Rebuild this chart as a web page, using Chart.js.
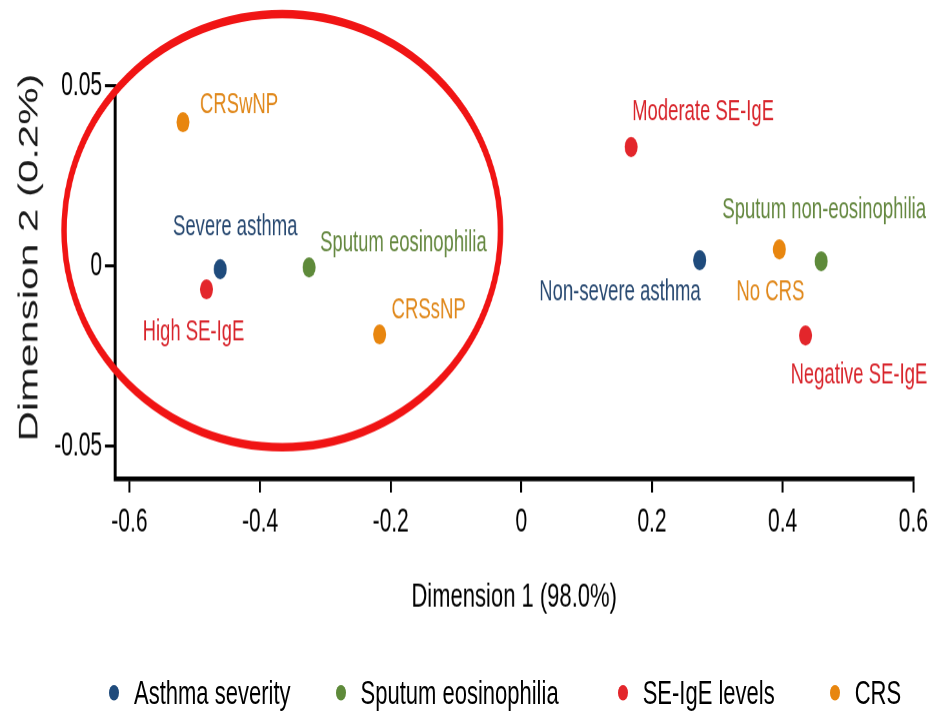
<!DOCTYPE html>
<html>
<head>
<meta charset="utf-8">
<script src="https://cdn.jsdelivr.net/npm/chart.js@4/dist/chart.umd.min.js"></script>
<style>
    html, body { margin: 0; padding: 0; background: #fff; width: 939px; height: 720px; overflow: hidden; }
    /* the source figure is stretched vertically, so draw flat and stretch */
    #wrap { position: relative; width: 939px; height: 465px; transform: scaleY(1.55); transform-origin: 0 0; }
    #legend { position: absolute; left: 109px; top: 436px; display: flex; align-items: center; white-space: nowrap;
              font: 22px "Liberation Sans", Arial, sans-serif; line-height: 22px; color: #000; }
    #legend .item { display: flex; align-items: center; flex-shrink: 0; }
    #legend .item:nth-child(1) { margin-right: 45px; }
    #legend .item:nth-child(2) { margin-right: 59px; }
    #legend .item:nth-child(3) { margin-right: 55px; }
    #legend .dot { width: 10px; height: 10px; border-radius: 50%; margin-right: 15px; flex-shrink: 0; }
</style>
</head>
<body>
<div id="wrap">
    <canvas id="mcaChart"></canvas>
    <div id="legend"></div>
</div>
<script>
// Groups
const groups = ['Asthma severity', 'Sputum eosinophilia', 'SE-IgE levels', 'CRS'];
const dotColors = ['#1f4b7c', '#5e8a3a', '#e3262b', '#e8860f'];
const textColors = ['#274870', '#64873f', '#d8242b', '#e0881b'];

// Category points (Dimension 1, Dimension 2)
const asthmaNames = ['Severe asthma', 'Non-severe asthma'];
const asthmaX = [-0.461, 0.273];
const asthmaY = [-0.0008, 0.0017];

const sputumNames = ['Sputum eosinophilia', 'Sputum non-eosinophilia'];
const sputumX = [-0.325, 0.459];
const sputumY = [-0.0003, 0.0014];

const igeNames = ['High SE-IgE', 'Moderate SE-IgE', 'Negative SE-IgE'];
const igeX = [-0.482, 0.168, 0.435];
const igeY = [-0.0064, 0.0331, -0.0192];

const crsNames = ['CRSwNP', 'CRSsNP', 'No CRS'];
const crsX = [-0.518, -0.217, 0.395];
const crsY = [0.0400, -0.0189, 0.0047];

// Axes
const xTicks = [-0.6, -0.4, -0.2, 0, 0.2, 0.4, 0.6];
const xTickLabels = ['-0.6', '-0.4', '-0.2', '0', '0.2', '0.4', '0.6'];
const yTicks = [-0.05, 0, 0.05];
const yTickLabels = ['-0.05', '0', '0.05'];

// Highlight ring around the severe cluster (data units)
const ring = { cx: -0.366, cy: 0.0099, rx: 0.334, ry: 0.0601 };

// where each label sits relative to its dot
const labelPlacement = {
    'Severe asthma': { align: 'center', dx: 15, dy: -27 },
    'Non-severe asthma': { align: 'right', dx: 1, dy: 21 },
    'Sputum eosinophilia': { align: 'left', dx: 11, dy: -15.5 },
    'Sputum non-eosinophilia': { align: 'center', dx: 3, dy: -33 },
    'High SE-IgE': { align: 'center', dx: -13, dy: 28 },
    'Moderate SE-IgE': { align: 'left', dx: 1, dy: -22.5 },
    'Negative SE-IgE': { align: 'left', dx: -15, dy: 26 },
    'CRSwNP': { align: 'left', dx: 17, dy: -11 },
    'CRSsNP': { align: 'left', dx: 12, dy: -15.5 },
    'No CRS': { align: 'center', dx: -9, dy: 28 }
};

const FONT = '"Liberation Sans", Arial, sans-serif';

function makeSet(i, names, xs, ys) {
    return {
        label: groups[i],
        names: names,
        textColor: textColors[i],
        data: xs.map((x, k) => ({ x: x, y: ys[k] })),
        backgroundColor: dotColors[i],
        borderWidth: 0,
        pointRadius: 6.5,
        pointHoverRadius: 6.5
    };
}

const datasets = [
    makeSet(0, asthmaNames, asthmaX, asthmaY),
    makeSet(1, sputumNames, sputumX, sputumY),
    makeSet(2, igeNames, igeX, igeY),
    makeSet(3, crsNames, crsX, crsY)
];

// Point labels
const pointLabels = {
    id: 'pointLabels',
    afterDatasetsDraw(chart) {
        const ctx = chart.ctx;
        ctx.save();
        ctx.font = '18.5px ' + FONT;
        ctx.textBaseline = 'middle';
        chart.data.datasets.forEach((ds, i) => {
            chart.getDatasetMeta(i).data.forEach((pt, k) => {
                const name = ds.names[k];
                const p = labelPlacement[name];
                ctx.fillStyle = ds.textColor;
                ctx.textAlign = p.align;
                ctx.fillText(name, pt.x + p.dx, pt.y + p.dy);
            });
        });
        ctx.restore();
    }
};

// red ring + rotated y title
const extras = {
    id: 'extras',
    afterDraw(chart) {
        const ctx = chart.ctx;
        const xs = chart.scales.x, ys = chart.scales.y;
        const cx = xs.getPixelForValue(ring.cx);
        const cy = ys.getPixelForValue(ring.cy);
        const rx = xs.getPixelForValue(ring.cx + ring.rx) - cx;
        const ry = cy - ys.getPixelForValue(ring.cy + ring.ry);
        ctx.save();
        ctx.strokeStyle = '#f01414';
        ctx.lineWidth = 5.5;
        ctx.beginPath();
        ctx.ellipse(cx, cy, rx, ry, 0, 0, Math.PI * 2);
        ctx.stroke();

        const area = chart.chartArea;
        ctx.translate(30, (area.top + area.bottom) / 2 - 16);
        ctx.rotate(-Math.PI / 2);
        ctx.font = '27px ' + FONT;
        ctx.fillStyle = '#1a1a1a';
        ctx.textAlign = 'center';
        ctx.textBaseline = 'middle';
        ctx.fillText('Dimension 2 (0.2%)', 0, 0);
        ctx.restore();
    }
};

const chart = new Chart(document.getElementById('mcaChart'), {
    type: 'scatter',
    data: { datasets: datasets },
    options: {
        responsive: true,
        maintainAspectRatio: false,
        devicePixelRatio: 1.55,
        animation: false,
        layout: { padding: { top: 55.5, right: 26, bottom: 0, left: 0 } },
        plugins: {
            legend: { display: false },
            tooltip: { enabled: false }
        },
        scales: {
            x: {
                type: 'linear',
                min: -0.622,
                max: 0.6,
                afterBuildTicks: s => { s.ticks = xTicks.map(v => ({ value: v })); },
                afterFit: s => { s.height = 156.6; },
                ticks: {
                    callback: (v, i) => xTickLabels[i],
                    font: { family: FONT, size: 21 },
                    color: '#000',
                    padding: 7,
                    maxRotation: 0
                },
                grid: { drawOnChartArea: false, color: '#000', lineWidth: 2, tickLength: 9 },
                border: { color: '#000', width: 3 },
                title: {
                    display: true,
                    text: 'Dimension 1 (98.0%)',
                    font: { family: FONT, size: 22 },
                    color: '#000',
                    padding: { top: 0, bottom: 66.6 }
                }
            },
            y: {
                type: 'linear',
                min: -0.0589,
                max: 0.05,
                afterBuildTicks: s => { s.ticks = yTicks.map(v => ({ value: v })); },
                afterFit: s => { s.width = 115; },
                ticks: {
                    callback: (v, i) => yTickLabels[i],
                    font: { family: FONT, size: 21 },
                    color: '#000',
                    padding: 3
                },
                grid: { drawOnChartArea: false, color: '#000', lineWidth: 2, tickLength: 10 },
                border: { color: '#000', width: 3 }
            }
        }
    },
    plugins: [pointLabels, extras]
});

// Legend
const legendEl = document.getElementById('legend');
chart.data.datasets.forEach(ds => {
    legendEl.insertAdjacentHTML('beforeend',
        `<div class="item"><span class="dot" style="background:${ds.backgroundColor}"></span><span>${ds.label}</span></div>`);
});
</script>
</body>
</html>
